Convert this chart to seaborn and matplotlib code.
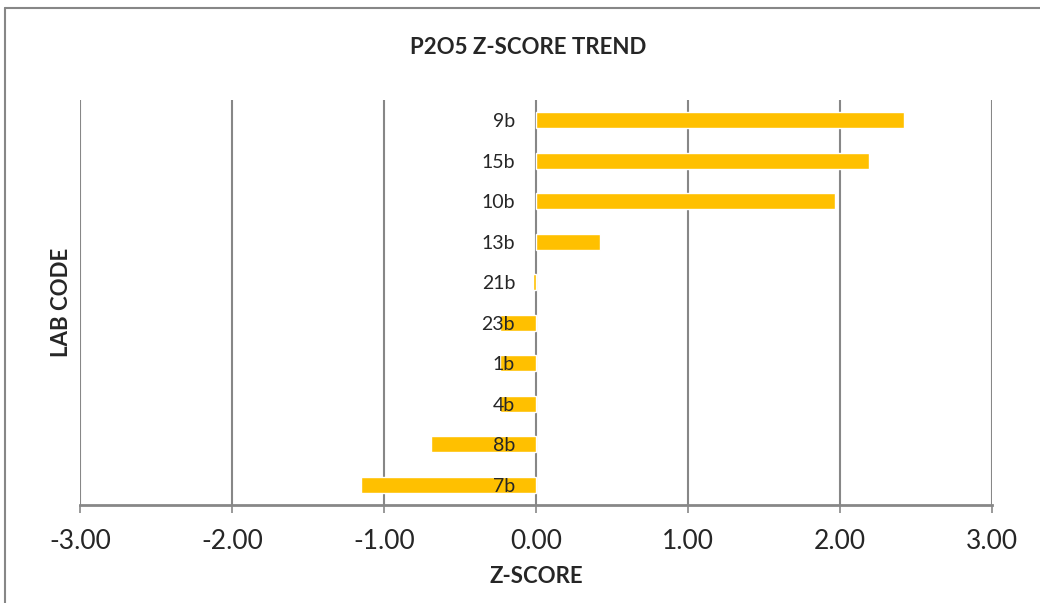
import seaborn as sns
import pandas as pd
import matplotlib
matplotlib.use("Agg")
from matplotlib import pyplot as plt
from matplotlib.lines import Line2D

# values
lab_codes = ["9b", "15b", "10b", "13b", "21b", "23b", "1b", "4b", "8b", "7b"]
z_scores = [2.42, 2.19, 1.97, 0.42, -0.02, -0.24, -0.24, -0.24, -0.69, -1.15]
x_ticks = [-3, -2, -1, 0, 1, 2, 3]

df = pd.DataFrame({"code": lab_codes, "z": z_scores})

sns.set_theme(style="white")
plt.rcParams["font.family"] = ["Lato", "DejaVu Sans"]

fig = plt.figure(figsize=(10.4, 6.03), dpi=100)
ax = fig.add_axes([80 / 1040, 98 / 603, 912 / 1040, 405 / 603])

sns.barplot(data=df, x="z", y="code", orient="h", color="#FFC000",
            saturation=1, width=0.4, ax=ax)

ax.set_xlim(-3, 3)
ax.set_ylim(len(lab_codes) - 0.5, -0.5)
ax.set_xticks(x_ticks)
ax.set_xticklabels([f"{t:.2f}" for t in x_ticks], fontsize=19)
ax.tick_params(axis="x", direction="out", length=6, width=1.2,
               color="#878787", pad=11, bottom=True)

# category labels sit at the zero line, like Excel
ax.spines["left"].set_position(("data", 0))
ax.spines["left"].set_visible(False)
ax.tick_params(axis="y", length=0, pad=15, labelsize=14)

for s in ["top", "right"]:
    ax.spines[s].set_visible(False)
ax.spines["bottom"].set_color("#878787")
ax.spines["bottom"].set_linewidth(2)

ax.grid(axis="x", color="#878787", linewidth=1.5)
ax.set_axisbelow(True)
# labels drawn over the bars
ax.yaxis.set_zorder(5)

ax.set_xlabel("Z-SCORE", fontsize=16, fontweight="bold", labelpad=9)
ax.set_ylabel("LAB CODE", fontsize=16, fontweight="bold")
ax.yaxis.set_label_coords(-0.009, 0.5)

fig.text(528 / 1040, 1 - 47 / 603, "P2O5 Z-SCORE TREND",
         ha="center", va="center", fontsize=16, fontweight="bold")

# outer chart frame (cropped at right and bottom)
fig.add_artist(Line2D([5 / 1040, 5 / 1040], [0, 1 - 8 / 603],
                      transform=fig.transFigure, color="#878787", lw=1.5))
fig.add_artist(Line2D([5 / 1040, 1], [1 - 8 / 603, 1 - 8 / 603],
                      transform=fig.transFigure, color="#878787", lw=1.5))

fig.savefig("out.png", dpi=100)
